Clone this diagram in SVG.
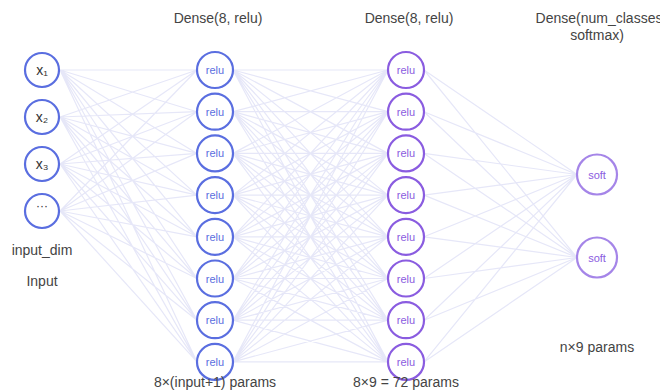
<svg xmlns="http://www.w3.org/2000/svg" width="660" height="390" viewBox="0 0 660 390">
<style>
.bg{fill:#ffffff}
.conn{fill:none;stroke:#e6e7f8;stroke-width:1.2}
.n-in circle,.n-l1 circle{fill:#ffffff;stroke:#5a6ee0;stroke-width:2.2}
.n-l2 circle{fill:#ffffff;stroke:#8a5ce0;stroke-width:2.2}
.n-out circle{fill:#ffffff;stroke:#a585e8;stroke-width:2.2}
text{font-family:"Liberation Sans",Arial,sans-serif;text-anchor:middle}
.lbl{font-size:14px;fill:#444444}
.xin{font-size:14px;fill:#333333}
.r1{font-size:11px;fill:#5a6ee0}
.r2{font-size:11px;fill:#8a5ce0}
.so{font-size:11px;fill:#8a5ce0}
</style>
<rect class="bg" x="0" y="0" width="660" height="390"/>
<g id="connectors">
<path class="conn" d="M60 70L197 70M60 70L197 111.7M60 70L197 153.4M60 70L197 195.1M60 70L197 236.8M60 70L197 278.5M60 70L197 320.2M60 70L197 361.9
M60 117L197 70M60 117L197 111.7M60 117L197 153.4M60 117L197 195.1M60 117L197 236.8M60 117L197 278.5M60 117L197 320.2M60 117L197 361.9
M60 164L197 70M60 164L197 111.7M60 164L197 153.4M60 164L197 195.1M60 164L197 236.8M60 164L197 278.5M60 164L197 320.2M60 164L197 361.9
M60 211L197 70M60 211L197 111.7M60 211L197 153.4M60 211L197 195.1M60 211L197 236.8M60 211L197 278.5M60 211L197 320.2M60 211L197 361.9"/>
<path class="conn" d="M233 70L388 70M233 70L388 111.7M233 70L388 153.4M233 70L388 195.1M233 70L388 236.8M233 70L388 278.5M233 70L388 320.2M233 70L388 361.9
M233 111.7L388 70M233 111.7L388 111.7M233 111.7L388 153.4M233 111.7L388 195.1M233 111.7L388 236.8M233 111.7L388 278.5M233 111.7L388 320.2M233 111.7L388 361.9
M233 153.4L388 70M233 153.4L388 111.7M233 153.4L388 153.4M233 153.4L388 195.1M233 153.4L388 236.8M233 153.4L388 278.5M233 153.4L388 320.2M233 153.4L388 361.9
M233 195.1L388 70M233 195.1L388 111.7M233 195.1L388 153.4M233 195.1L388 195.1M233 195.1L388 236.8M233 195.1L388 278.5M233 195.1L388 320.2M233 195.1L388 361.9
M233 236.8L388 70M233 236.8L388 111.7M233 236.8L388 153.4M233 236.8L388 195.1M233 236.8L388 236.8M233 236.8L388 278.5M233 236.8L388 320.2M233 236.8L388 361.9
M233 278.5L388 70M233 278.5L388 111.7M233 278.5L388 153.4M233 278.5L388 195.1M233 278.5L388 236.8M233 278.5L388 278.5M233 278.5L388 320.2M233 278.5L388 361.9
M233 320.2L388 70M233 320.2L388 111.7M233 320.2L388 153.4M233 320.2L388 195.1M233 320.2L388 236.8M233 320.2L388 278.5M233 320.2L388 320.2M233 320.2L388 361.9
M233 361.9L388 70M233 361.9L388 111.7M233 361.9L388 153.4M233 361.9L388 195.1M233 361.9L388 236.8M233 361.9L388 278.5M233 361.9L388 320.2M233 361.9L388 361.9"/>
<path class="conn" d="M424 70L577 174.5M424 70L577 257.5M424 111.7L577 174.5M424 111.7L577 257.5M424 153.4L577 174.5M424 153.4L577 257.5M424 195.1L577 174.5M424 195.1L577 257.5M424 236.8L577 174.5M424 236.8L577 257.5M424 278.5L577 174.5M424 278.5L577 257.5M424 320.2L577 174.5M424 320.2L577 257.5M424 361.9L577 174.5M424 361.9L577 257.5"/>
</g>
<g id="input-x1" class="n-in"><circle cx="42" cy="70" r="17"/><text class="xin" x="42" y="75">x₁</text></g>
<g id="input-x2" class="n-in"><circle cx="42" cy="117" r="17"/><text class="xin" x="42" y="122">x₂</text></g>
<g id="input-x3" class="n-in"><circle cx="42" cy="164" r="17"/><text class="xin" x="42" y="169">x₃</text></g>
<g id="input-more" class="n-in"><circle cx="42" cy="211" r="17"/><text class="xin" x="42" y="210" style="font-size:12px">···</text></g>
<g id="l1-1" class="n-l1"><circle cx="215" cy="70" r="18"/><text class="r1" x="215" y="74">relu</text></g>
<g id="l1-2" class="n-l1"><circle cx="215" cy="111.7" r="18"/><text class="r1" x="215" y="115.7">relu</text></g>
<g id="l1-3" class="n-l1"><circle cx="215" cy="153.4" r="18"/><text class="r1" x="215" y="157.4">relu</text></g>
<g id="l1-4" class="n-l1"><circle cx="215" cy="195.1" r="18"/><text class="r1" x="215" y="199.1">relu</text></g>
<g id="l1-5" class="n-l1"><circle cx="215" cy="236.8" r="18"/><text class="r1" x="215" y="240.8">relu</text></g>
<g id="l1-6" class="n-l1"><circle cx="215" cy="278.5" r="18"/><text class="r1" x="215" y="282.5">relu</text></g>
<g id="l1-7" class="n-l1"><circle cx="215" cy="320.2" r="18"/><text class="r1" x="215" y="324.2">relu</text></g>
<g id="l1-8" class="n-l1"><circle cx="215" cy="361.9" r="18"/><text class="r1" x="215" y="365.9">relu</text></g>
<g id="l2-1" class="n-l2"><circle cx="406" cy="70" r="18"/><text class="r2" x="406" y="74">relu</text></g>
<g id="l2-2" class="n-l2"><circle cx="406" cy="111.7" r="18"/><text class="r2" x="406" y="115.7">relu</text></g>
<g id="l2-3" class="n-l2"><circle cx="406" cy="153.4" r="18"/><text class="r2" x="406" y="157.4">relu</text></g>
<g id="l2-4" class="n-l2"><circle cx="406" cy="195.1" r="18"/><text class="r2" x="406" y="199.1">relu</text></g>
<g id="l2-5" class="n-l2"><circle cx="406" cy="236.8" r="18"/><text class="r2" x="406" y="240.8">relu</text></g>
<g id="l2-6" class="n-l2"><circle cx="406" cy="278.5" r="18"/><text class="r2" x="406" y="282.5">relu</text></g>
<g id="l2-7" class="n-l2"><circle cx="406" cy="320.2" r="18"/><text class="r2" x="406" y="324.2">relu</text></g>
<g id="l2-8" class="n-l2"><circle cx="406" cy="361.9" r="18"/><text class="r2" x="406" y="365.9">relu</text></g>
<g id="out-1" class="n-out"><circle cx="597" cy="174.5" r="20"/><text class="so" x="597" y="178.5">soft</text></g>
<g id="out-2" class="n-out"><circle cx="597" cy="257.5" r="20"/><text class="so" x="597" y="261.5">soft</text></g>
<g id="labels">
<text class="lbl" x="42" y="255">input_dim</text>
<text class="lbl" x="42" y="286">Input</text>
<text class="lbl" x="218" y="23">Dense(8, relu)</text>
<text class="lbl" x="409" y="23">Dense(8, relu)</text>
<text class="lbl" x="599" y="23">Dense(num_classes</text>
<text class="lbl" x="597" y="40">softmax)</text>
<text class="lbl" x="215" y="387">8×(input+1) params</text>
<text class="lbl" x="406" y="387">8×9 = 72 params</text>
<text class="lbl" x="597" y="352">n×9 params</text>
</g>
</svg>
